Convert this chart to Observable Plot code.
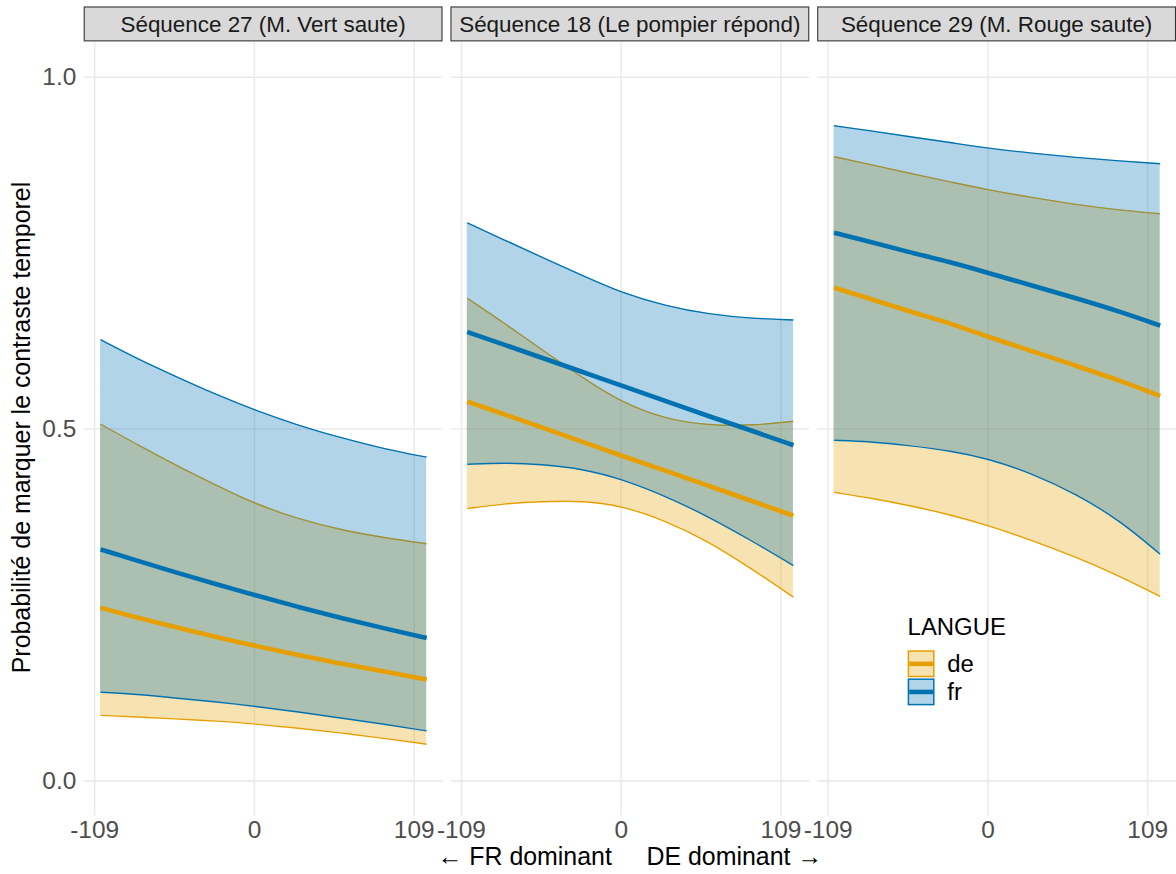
<!DOCTYPE html>
<html><head><meta charset="utf-8">
<script src="https://cdn.jsdelivr.net/npm/d3@7"></script>
<script src="https://cdn.jsdelivr.net/npm/@observablehq/plot@0.6"></script>
<style>
html,body{margin:0;padding:0;background:#fff;overflow:hidden;}
#chart{width:1176px;height:874px;overflow:hidden;}
</style></head><body><div id="chart"></div>
<script>
const sequences = ["Séquence 27 (M. Vert saute)", "Séquence 18 (Le pompier répond)", "Séquence 29 (M. Rouge saute)"];
const langues = ["de", "fr"];
const langColors = ["#E69F00", "#0072B2"];
const xGrid = [-105, -80, -55, -25, 0, 30, 60, 90, 117.5];
const xTicks = [-109, 0, 109];
const yTicks = [0, 0.5, 1];
const xTitle = "← FR dominant     DE dominant →";
const yTitle = "Probabilité de marquer le contraste temporel";
const legendTitle = "LANGUE";

// Séquence 27
const s27_fr_upper = [.627, .600, .576, .548, .527, .505, .487, .471, .460];
const s27_fr_mean  = [.329, .313, .297, .279, .264, .247, .231, .216, .203];
const s27_fr_lower = [.126, .123, .118, .112, .106, .098, .089, .080, .071];
const s27_de_upper = [.507, .478, .450, .419, .394, .372, .356, .345, .337];
const s27_de_mean  = [.246, .232, .219, .204, .192, .179, .166, .155, .144];
const s27_de_lower = [.093, .091, .088, .085, .081, .075, .068, .060, .052];
// Séquence 18
const s18_fr_upper = [.793, .769, .745, .717, .694, .675, .663, .657, .655];
const s18_fr_mean  = [.638, .620, .602, .580, .562, .540, .518, .497, .477];
const s18_fr_lower = [.450, .452, .450, .443, .429, .405, .375, .340, .306];
const s18_de_upper = [.686, .651, .614, .571, .538, .514, .505, .505, .511];
const s18_de_mean  = [.539, .521, .503, .481, .462, .441, .419, .397, .377];
const s18_de_lower = [.387, .394, .397, .398, .391, .370, .340, .300, .261];
// Séquence 29
const s29_fr_upper = [.931, .924, .916, .907, .899, .892, .886, .881, .877];
const s29_fr_mean  = [.779, .766, .752, .737, .722, .704, .686, .667, .647];
const s29_fr_lower = [.484, .482, .477, .469, .458, .437, .408, .370, .322];
const s29_de_upper = [.887, .876, .864, .851, .840, .829, .819, .811, .806];
const s29_de_mean  = [.701, .685, .668, .650, .631, .611, .590, .569, .547];
const s29_de_lower = [.410, .402, .392, .378, .363, .342, .318, .291, .262];

const series = [
  [sequences[0], "de", s27_de_mean, s27_de_lower, s27_de_upper],
  [sequences[0], "fr", s27_fr_mean, s27_fr_lower, s27_fr_upper],
  [sequences[1], "de", s18_de_mean, s18_de_lower, s18_de_upper],
  [sequences[1], "fr", s18_fr_mean, s18_fr_lower, s18_fr_upper],
  [sequences[2], "de", s29_de_mean, s29_de_lower, s29_de_upper],
  [sequences[2], "fr", s29_fr_mean, s29_fr_lower, s29_fr_upper]
];
const rows = [];
for (const [seq, langue, m, lo, up] of series) {
  xGrid.forEach((x, i) => rows.push({seq, langue, x, mean: m[i], lower: lo[i], upper: up[i]}));
}

const xmin = d3.min(xGrid), xmax = d3.max(xGrid), xexp = 0.05 * (xmax - xmin);
const xDomain = [xmin - xexp, xmax + xexp];
const FONT = "'Liberation Sans', Arial, sans-serif";
const CURVE = "basis";

const marks = [
  Plot.gridY(yTicks, {stroke: "#EBEBEB", strokeOpacity: 1, strokeWidth: 1.6}),
  Plot.gridX(xTicks, {stroke: "#EBEBEB", strokeOpacity: 1, strokeWidth: 1.6})
];
langues.forEach((l, i) => {
  const d = rows.filter(r => r.langue === l);
  marks.push(Plot.areaY(d, {x: "x", y1: "lower", y2: "upper", fx: "seq", z: "seq", fill: langColors[i], fillOpacity: 0.3, curve: CURVE}));
  marks.push(Plot.lineY(d, {x: "x", y: "lower", fx: "seq", z: "seq", stroke: langColors[i], strokeWidth: 1.4, curve: CURVE, strokeLinecap: "butt"}));
  marks.push(Plot.lineY(d, {x: "x", y: "upper", fx: "seq", z: "seq", stroke: langColors[i], strokeWidth: 1.4, curve: CURVE, strokeLinecap: "butt"}));
});
marks.push(Plot.lineY(rows, {x: "x", y: "mean", fx: "seq", z: "langue", stroke: "langue", strokeWidth: 4.6, curve: CURVE, strokeLinecap: "butt"}));
marks.push(Plot.axisX(xTicks, {tickSize: 0, tickPadding: 5, fontSize: 24.5, fill: "#4D4D4D", tickFormat: d => String(d), label: null}));
marks.push(Plot.axisY(yTicks, {tickSize: 0, tickPadding: 8, fontSize: 24.5, fill: "#4D4D4D", tickFormat: d3.format(".1f"), label: null}));

const plot = Plot.plot({
  width: 1180, height: 874,
  marginTop: 41.7, marginBottom: 55.7, marginLeft: 84, marginRight: 0,
  fx: {domain: sequences, paddingInner: 8 / 368, paddingOuter: 0, axis: null, label: null},
  x: {domain: xDomain},
  y: {domain: [-0.05, 1.05]},
  color: {domain: langues, range: langColors},
  style: {fontFamily: FONT, background: "white", overflow: "visible"},
  marks
});
document.getElementById("chart").appendChild(plot);

const svg = d3.select(plot);
const fx = plot.scale("fx");
const bw = fx.bandwidth;
const strips = svg.append("g");
sequences.forEach(s => {
  const x0 = fx.apply(s);
  strips.append("rect").attr("x", x0 + 0.5).attr("y", 7).attr("width", bw - 1).attr("height", 34)
    .attr("fill", "#D9D9D9").attr("stroke", "#333333").attr("stroke-width", 1.1);
  strips.append("text").attr("x", x0 + bw / 2).attr("y", 32.5).attr("text-anchor", "middle")
    .attr("font-family", FONT).attr("font-size", 22.5).attr("fill", "#1A1A1A").text(s);
});
// axis titles
const cx = (84 + 1180) / 2;
svg.append("text").attr("x", cx).attr("y", 868).attr("text-anchor", "middle")
  .attr("font-family", FONT).attr("font-size", 25).attr("fill", "#000").style("white-space", "pre")
  .attr("xml:space", "preserve").text(xTitle);
svg.append("text").attr("transform", "translate(30,429) rotate(-90)").attr("text-anchor", "middle")
  .attr("font-family", FONT).attr("font-size", 25).attr("fill", "#000").text(yTitle);
// legend
const lg = svg.append("g").attr("transform", "translate(910,0)").attr("text-anchor", "start");
lg.append("text").attr("x", 0.7).attr("y", 637).attr("text-anchor", "start").attr("font-family", FONT).attr("font-size", 24).attr("fill", "#000").text(legendTitle);
langues.forEach((l, i) => {
  const y0 = 652.5 + i * 28.2;
  lg.append("rect").attr("x", 1.5).attr("y", y0 + 0.8).attr("width", 25.5).attr("height", 25.5)
    .attr("fill", langColors[i]).attr("fill-opacity", 0.3).attr("stroke", langColors[i]).attr("stroke-width", 1.5);
  lg.append("line").attr("x1", 2.3).attr("x2", 26.2).attr("y1", y0 + 13.6).attr("y2", y0 + 13.6)
    .attr("stroke", langColors[i]).attr("stroke-width", 4.6);
  lg.append("text").attr("x", 40.5).attr("y", y0 + 22).attr("text-anchor", "start").attr("font-family", FONT).attr("font-size", 24).attr("fill", "#000").text(l);
});
</script></body></html>
